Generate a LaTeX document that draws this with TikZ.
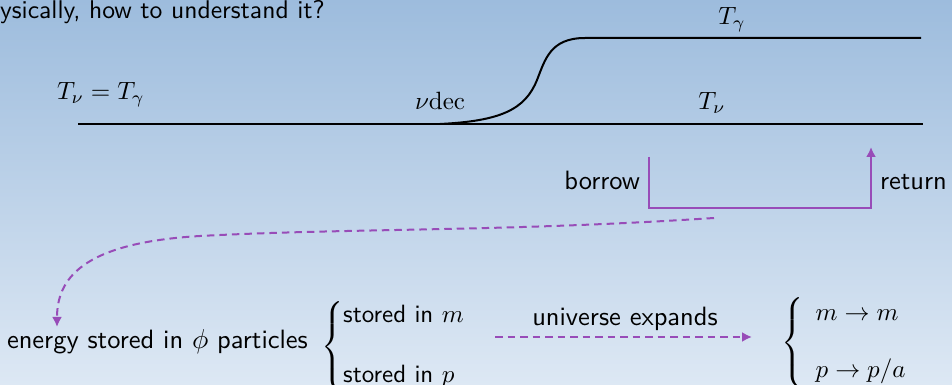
\documentclass[tikz,border=0pt]{standalone}
\usepackage{amsmath}
\usetikzlibrary{arrows.meta,calc}
\definecolor{vio}{RGB}{152,76,184}
\definecolor{bgtop}{RGB}{157,188,221}
\definecolor{bgbot}{RGB}{221,232,244}
\begin{document}
\begin{tikzpicture}[x=0.4pt,y=-0.4pt,
  font=\sffamily\fontsize{10.6}{12.7}\selectfont,
  lbl/.style={inner sep=0pt, outer sep=0pt},
  blackline/.style={black, line width=0.8pt},
  vline/.style={vio, line width=0.8pt},
  vdash/.style={vio, line width=0.8pt, dash pattern=on 3pt off 2pt},
  tipped/.style={-{Latex[length=4pt,width=4pt]}}]
\shade[top color=bgtop, bottom color=bgbot] (0,0) rectangle (952,385);
\useasboundingbox (0,0) rectangle (952,385);
% title
\node[lbl, anchor=base west, font=\sffamily\fontsize{10.25}{12}\selectfont] (title) at (0,19) {ysically, how to understand it?};
% temperature lines
\coordinate (lowL) at (78,124);
\coordinate (lowR) at (923,124);
\coordinate (dec) at (440,124);
\coordinate (upR) at (921,38);
\draw[blackline] (lowL) -- (lowR);
\draw[blackline] (dec) .. controls (500,121) and (525,110) .. (537,80)
  .. controls (545,60) and (550,38) .. (585,38) -- (upR);
\node[lbl, anchor=base west, font=\fontsize{10}{12}\selectfont] (teq) at (57,100) {$T_\nu = T_\gamma$};
\node[lbl, anchor=base, font=\fontsize{10}{12}\selectfont] (tg) at (732,25) {$T_\gamma$};
\node[lbl, anchor=base, font=\fontsize{10}{12}\selectfont] (tn) at (712,110) {$T_\nu$};
\node[lbl, anchor=base west, font=\fontsize{10}{12}\selectfont] (nudec) at (415,110) {$\nu\mathrm{dec}$};
% borrow / return
\coordinate (b1) at (649,157);
\coordinate (b2) at (649,208);
\coordinate (b3) at (871,208);
\coordinate (b4) at (871,147);
\draw[vline, tipped] (b1) -- (b2) -- (b3) -- (b4);
\node[lbl, anchor=base east] (borrow) at (640,190) {borrow};
\node[lbl, anchor=base west] (return) at (880,190) {return};
% energy
\node[lbl, anchor=base west] (energy) at (7,348) {energy stored in $\phi$ particles};
\coordinate (dstart) at (714,218);
\draw[vdash, tipped] (dstart) .. controls (500,232) and (350,228) .. (200,236)
  .. controls (80,243) and (57,280) .. ($(energy.north west)+(50,-2)$);
\node[lbl, anchor=base west, font=\sffamily\fontsize{10}{12}\selectfont] (storeL) at (321,353)
  {$\left\{\begin{array}{@{}l}\mbox{stored in }m\\ \\ \mbox{stored in }p\end{array}\right.$};
% universe expands
\coordinate (ua) at (495,337);
\coordinate (ub) at (752,337);
\draw[vdash, tipped] (ua) -- (ub);
\node[lbl, anchor=base] (uexp) at (625,325) {universe expands};
\node[lbl, anchor=base west, font=\fontsize{10}{12}\selectfont] (storeR) at (781,349)
  {$\left\{\begin{array}{l}m\to m\\[-1.2pt] \\ p\to p/a\end{array}\right.$};
\end{tikzpicture}
\end{document}
